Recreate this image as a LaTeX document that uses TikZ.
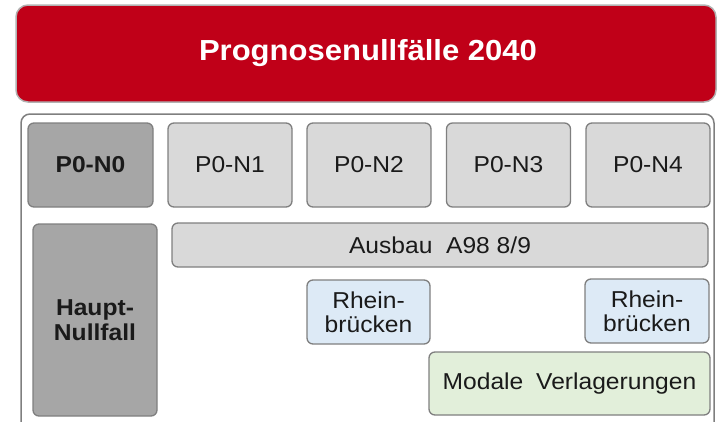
\documentclass[tikz,border=0pt]{standalone}
\usepackage{fontspec}
\setmainfont{Liberation Sans}[FakeStretch=1.07]
\definecolor{titlered}{HTML}{C00018}
\definecolor{boxline}{HTML}{7F7F7F}
\definecolor{darkcase}{HTML}{A6A6A6}
\definecolor{lightcase}{HTML}{D9D9D9}
\definecolor{bridgeblue}{HTML}{DDEAF6}
\definecolor{modalgreen}{HTML}{E2EFDA}
\definecolor{txt}{HTML}{1A1A1A}
\begin{document}
\begin{tikzpicture}[x=1pt, y=-1pt,
  font=\fontsize{23}{24}\selectfont,
  casebox/.style={draw=boxline, line width=1.3pt, rounded corners=6pt, text=txt,
    inner sep=0pt, align=center},
  nullbox/.style={casebox, fill=darkcase, font=\fontsize{23}{25}\selectfont\bfseries},
  variant/.style={casebox, fill=lightcase}]

\clip (0,0) rectangle (718,421);

% title bar and frame
\draw[draw=gray!60, line width=1.5pt, fill=titlered, rounded corners=12pt]
  (16,5) rectangle (716,102);
\node[text=white, font=\fontsize{29}{31}\selectfont\bfseries] (title) at (368,53) {Prognosenullfälle 2040};
\draw[boxline, line width=1.5pt, rounded corners=9pt] (21,114) rectangle (714,440);

% scenario row
\node[nullbox, minimum width=125pt, minimum height=84pt] (n0) at (90.5,165) {P0-N0};
\foreach \i/\xc in {1/230, 2/369, 3/508.5, 4/648}
  \node[variant, minimum width=124pt, minimum height=84pt] (n\i) at (\xc,165) {P0-N\i};

% measures
\node[nullbox, minimum width=124pt, minimum height=192pt] (haupt) at (95,320) {Haupt-\\Nullfall};
\node[variant, minimum width=536pt, minimum height=44pt] (ausbau) at (440,245) {Ausbau~~A98 8/9};
\node[casebox, fill=bridgeblue, minimum width=123pt, minimum height=64pt] (rhein2) at (368.5,312) {Rhein-\\brücken};
\node[casebox, fill=bridgeblue, minimum width=124pt, minimum height=64pt] (rhein4) at (647,311) {Rhein-\\brücken};
\node[casebox, fill=modalgreen, minimum width=281pt, minimum height=63pt] (modal) at (569.5,383.5) {Modale\hspace{6pt} Verlagerungen};

\end{tikzpicture}
\end{document}
